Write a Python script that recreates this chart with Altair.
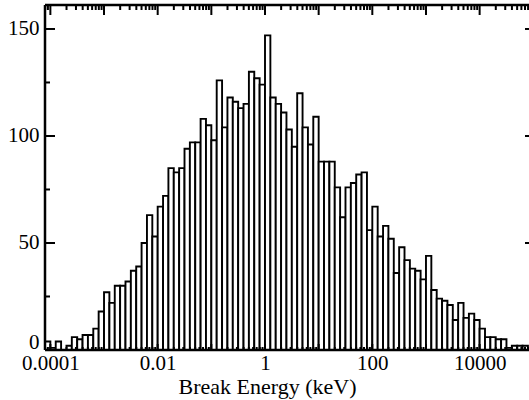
import altair as alt
import pandas as pd
import numpy as np

# histogram counts, 0.1-dex bins starting at log10(E) = -4.1
counts = [4, 1, 4, 0, 2, 6, 5, 7, 7, 10,
          18, 27, 22, 30, 30, 32, 37, 39, 50, 63,
          53, 67, 72, 85, 83, 85, 94, 97, 97, 108,
          105, 98, 126, 104, 118, 116, 113, 115, 130, 127,
          124, 147, 118, 115, 111, 103, 95, 120, 104, 96,
          109, 88, 88, 88, 76, 62, 76, 78, 82, 83,
          56, 67, 53, 58, 52, 36, 48, 42, 38, 37,
          33, 44, 28, 24, 23, 21, 14, 22, 15, 17,
          14, 10, 6, 6, 5, 5, 1, 2, 2, 2]
log_start = -4.1
bin_dex = 0.1

x_label_values = [1e-4, 1e-2, 1, 100, 1e4]
x_major_ticks = [10.0 ** k for k in range(-4, 5)]
x_minor_ticks = [m * 10.0 ** k for k in range(-5, 5) for m in range(2, 10)]
y_label_values = [0, 50, 100, 150]
y_minor_ticks = [25, 75, 125]

W, H = 484, 345
FONT = "'Liberation Serif', 'Times New Roman', serif"

lo = [10 ** (log_start + bin_dex * i) for i in range(len(counts))]
hi = [10 ** (log_start + bin_dex * (i + 1)) for i in range(len(counts))]
bars_df = pd.DataFrame({"lo": lo, "hi": hi, "count": counts, "zero": [0] * len(counts)})

xscale = alt.Scale(type="log", domain=[10 ** -4.1, 10 ** 4.92], nice=False)
yscale = alt.Scale(domain=[0, 161.2], nice=False, zero=True)

x_axis = alt.Axis(values=x_label_values, ticks=False, domain=False, grid=False,
                  labelExpr="datum.value < 1 ? format(datum.value, '.4~f') : format(datum.value, 'd')",
                  labelFont=FONT, labelFontSize=21, labelColor="black", labelPadding=2,
                  labelFlush=False, labelOverlap=False,
                  title="Break Energy (keV)", titleFont=FONT, titleFontSize=22,
                  titleFontWeight="normal", titleColor="black", titlePadding=3,
                  titleX=222, titleAlign="center")
y_axis = alt.Axis(values=y_label_values, ticks=False, domain=False, grid=False,
                  labelFont=FONT, labelFontSize=21, labelColor="black", labelPadding=6,
                  labelOffset={"condition": {"test": "datum.value == 0", "value": -8}, "value": 0},
                  title=None)

bars = alt.Chart(bars_df).mark_rect(
    fill="white", stroke="black", strokeWidth=1.9, clip=True
).encode(
    x=alt.X("lo:Q", scale=xscale, axis=x_axis, title="Break Energy (keV)"),
    x2="hi:Q",
    y=alt.Y("count:Q", scale=yscale, axis=y_axis, title=None),
    y2="zero:Q",
)

xmaj = pd.DataFrame({"lo": x_major_ticks})
xmin = pd.DataFrame({"lo": x_minor_ticks})
ymaj = pd.DataFrame({"count": y_label_values})
ymin = pd.DataFrame({"count": y_minor_ticks})


def xticks(df, length):
    enc_x = alt.X("lo:Q", scale=xscale, axis=x_axis, title="Break Energy (keV)")
    top = alt.Chart(df).mark_rule(color="black", strokeWidth=2, clip=True).encode(
        x=enc_x, y=alt.value(0), y2=alt.value(length))
    bot = alt.Chart(df).mark_rule(color="black", strokeWidth=2, clip=True).encode(
        x=enc_x, y=alt.value(H), y2=alt.value(H - length * 0.6))
    return [top, bot]


def yticks(df, length, right_len):
    enc_y = alt.Y("count:Q", scale=yscale, axis=y_axis, title=None)
    left = alt.Chart(df).mark_rule(color="black", strokeWidth=2, clip=True).encode(
        y=enc_y, x=alt.value(0), x2=alt.value(length))
    layers = [left]
    if right_len > 0:
        right = alt.Chart(df).mark_rule(color="black", strokeWidth=2, clip=True).encode(
            y=enc_y, x=alt.value(W - right_len), x2=alt.value(W))
        layers.append(right)
    return layers


frame_df = pd.DataFrame({"a": [0]})
frame_top = alt.Chart(frame_df).mark_rule(color="black", strokeWidth=2.5).encode(
    x=alt.value(0), x2=alt.value(W), y=alt.value(0))
frame_bot = alt.Chart(frame_df).mark_rule(color="black", strokeWidth=2.5).encode(
    x=alt.value(0), x2=alt.value(W), y=alt.value(H))
frame_left = alt.Chart(frame_df).mark_rule(color="black", strokeWidth=2.5).encode(
    x=alt.value(0), y=alt.value(0), y2=alt.value(H))

layers = [bars] + xticks(xmaj, 10) + xticks(xmin, 5) + yticks(ymaj, 10, 4) + yticks(ymin, 5, 0) \
    + [frame_top, frame_bot, frame_left]

chart = alt.layer(*layers).properties(
    width=W, height=H,
    autosize=alt.AutoSizeParams(type="none"),
    padding={"left": 45, "right": 0, "top": 5, "bottom": 50},
    background="white",
).configure_view(strokeWidth=0)

chart.save("out.html", embed_options={"renderer": "svg", "actions": False})
